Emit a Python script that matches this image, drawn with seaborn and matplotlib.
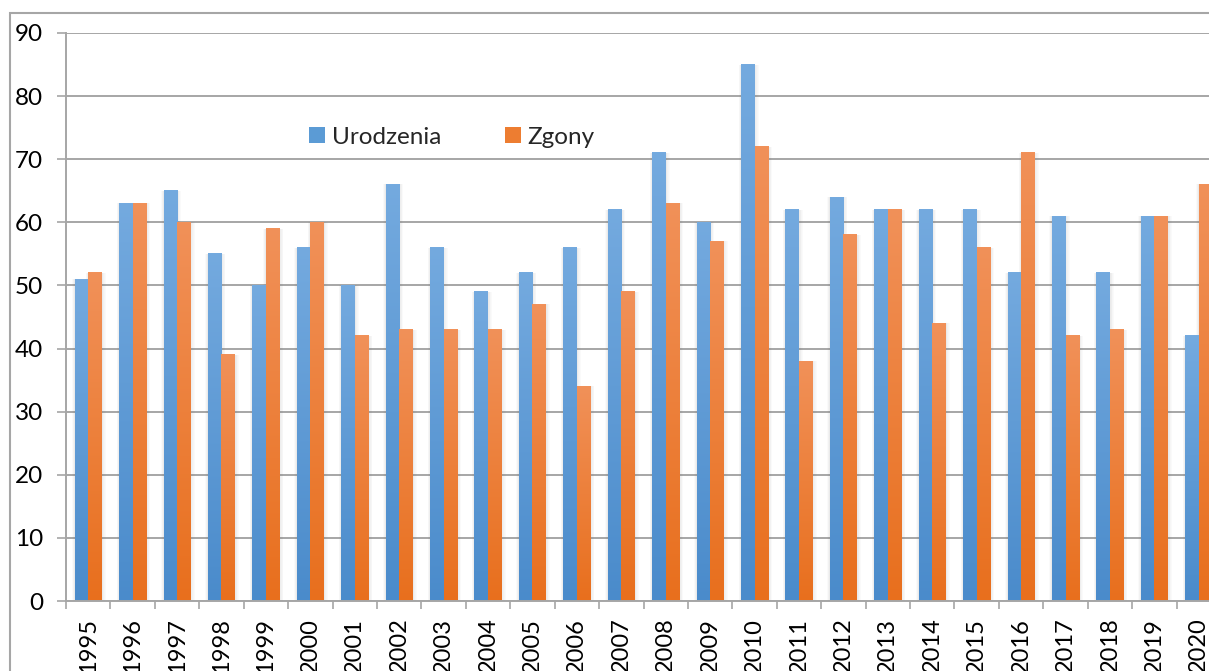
import numpy as np
import matplotlib
matplotlib.use('Agg')
import matplotlib.pyplot as plt
from matplotlib.colors import LinearSegmentedColormap
from matplotlib.patches import Rectangle, Patch
import seaborn as sns
import pandas as pd

# dane
years = [str(y) for y in range(1995, 2021)]
urodzenia = [51, 63, 65, 55, 50, 56, 50, 66, 56, 49, 52, 56, 62,
             71, 60, 85, 62, 64, 62, 62, 62, 52, 61, 52, 61, 42]
zgony = [52, 63, 60, 39, 59, 60, 42, 43, 43, 43, 47, 34, 49,
         63, 57, 72, 38, 58, 62, 44, 56, 71, 42, 43, 61, 66]
series = ['Urodzenia', 'Zgony']
y_ticks = list(range(0, 100, 10))

blue_top, blue_bot = '#74aadf', '#4a8bcb'
orange_top, orange_bot = '#f19159', '#e86f1d'

sns.set_style('white')
plt.rcParams['font.family'] = ['Lato', 'DejaVu Sans']

df = pd.DataFrame({
    'rok': years * 2,
    'liczba': urodzenia + zgony,
    'seria': [series[0]] * len(years) + [series[1]] * len(years),
})

W, H = 1209, 671
fig = plt.figure(figsize=(W / 100, H / 100), dpi=100)
ax = fig.add_axes([66 / W, 70 / H, 1155 / W, 568 / H])

sns.barplot(data=df, x='rok', y='liczba', hue='seria', order=years,
            palette=['#5b9bd5', '#ed7d31'], width=0.61, saturation=1,
            legend=False, ax=ax, zorder=3, linewidth=0, edgecolor='none')

ax.set_xlim(-0.5, len(years) - 0.5)
ax.set_ylim(0, 90)

# gradient + lekki cien na slupkach
px_x = 1 / 44.4
cmaps = [LinearSegmentedColormap.from_list('b', [blue_bot, blue_top]),
         LinearSegmentedColormap.from_list('o', [orange_bot, orange_top])]
grad = np.linspace(0, 1, 256).reshape(-1, 1)
for cont, cmap in zip(ax.containers, cmaps):
    for bar in cont:
        x0, w, h = bar.get_x(), bar.get_width(), bar.get_height()
        for k in range(1, 6):
            ax.add_patch(Rectangle((x0 - k * 0.5 * px_x, 0), w + k * 1.3 * px_x,
                                   h, color='#7f7f7f', alpha=0.03, lw=0,
                                   zorder=2))
        ax.imshow(grad, extent=[x0, x0 + w, 0, h], origin='lower',
                  aspect='auto', cmap=cmap, zorder=3.5)

ax.set_xlim(-0.5, len(years) - 0.5)
ax.set_ylim(0, 90)

grid_c = '#a6a6a6'
ax.set_yticks(y_ticks)
ax.yaxis.grid(True, color=grid_c, lw=1.4, zorder=1)
ax.xaxis.grid(False)
ax.set_axisbelow(True)
for s in ['top', 'right']:
    ax.spines[s].set_visible(False)
for s in ['left', 'bottom']:
    ax.spines[s].set_color(grid_c)
    ax.spines[s].set_linewidth(1.4)
    ax.spines[s].set_zorder(5)

ax.tick_params(axis='y', length=6.5, width=1.2, color=grid_c, pad=10,
               labelsize=17.5, labelcolor='black', left=True)
ax.set_xticks(range(len(years)))
ax.set_xticklabels(years, rotation=90)
ax.set_xticks(np.arange(len(years) + 1) - 0.5, minor=True)
ax.tick_params(axis='x', which='major', length=0, pad=12, labelsize=17,
               labelcolor='black')
ax.tick_params(axis='x', which='minor', length=6, width=1.2, color=grid_c,
               bottom=True)
ax.set_xlabel('')
ax.set_ylabel('')

handles = [Patch(facecolor='#5b9bd5', edgecolor='none'),
           Patch(facecolor='#ed7d31', edgecolor='none')]
fig.legend(handles, series, loc='center', bbox_to_anchor=(452 / W, 1 - 137 / H),
           ncol=2, frameon=False, fontsize=17.5, handlelength=0.65,
           handleheight=0.65, handletextpad=0.3, columnspacing=2.6)

# ramka obszaru wykresu
fig.add_artist(Rectangle((10 / W, -0.1), 1.5, 1.1 - 13 / H,
                         transform=fig.transFigure, fill=False,
                         edgecolor=grid_c, lw=1.5))

fig.savefig('out.png', dpi=100)
